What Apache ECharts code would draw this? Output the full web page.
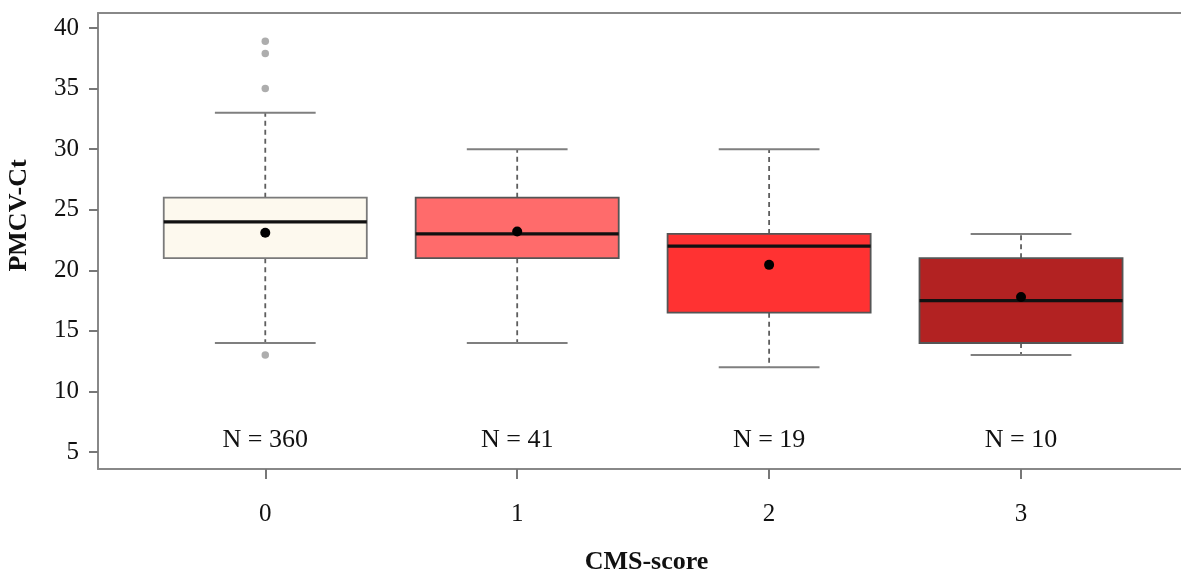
<!DOCTYPE html>
<html>
<head>
<meta charset="utf-8">
<script src="https://cdn.jsdelivr.net/npm/echarts@6/dist/echarts.min.js"></script>
<style>html,body{margin:0;padding:0;background:#fff;}#c{width:1181px;height:572px;}</style>
</head>
<body>
<div id="c"></div>
<script>
// ---- data ----
const categories = [0, 1, 2, 3];
const whiskerLow = [14, 14, 12, 13];
const q1 = [21, 21, 16.5, 14];
const median = [24, 23, 22, 17.5];
const q3 = [26, 26, 23, 21];
const whiskerHigh = [33, 30, 30, 23];
const means = [23.1, 23.2, 20.45, 17.8];
const outlierCat = [0, 0, 0, 0];
const outlierVal = [13, 35, 37.9, 38.9];
const countLabels = ['N = 360', 'N = 41', 'N = 19', 'N = 10'];
const yTicks = [5, 10, 15, 20, 25, 30, 35, 40];
const xTicks = [0, 1, 2, 3];

// ---- style ----
const palette = ['#FDF9EE', '#FF6B6B', '#FF3232', '#B22222'];
const strokes = ['#7a7a7a', '#555555', '#555555', '#555555'];
const labelY = 5.95;
const serif = '"Liberation Serif", "Times New Roman", serif';

const boxData = categories.map((c, i) => [c, whiskerLow[i], q1[i], median[i], q3[i], whiskerHigh[i], means[i]]);
const outlierData = outlierCat.map((c, i) => [c, outlierVal[i]]);
const nData = categories.map((c, i) => [c, labelY, countLabels[i]]);

function renderBox(params, api) {
  const i = params.dataIndex;
  const x = api.value(0);
  const lo = api.coord([x, api.value(1)]);
  const b1 = api.coord([x, api.value(2)]);
  const md = api.coord([x, api.value(3)]);
  const b3 = api.coord([x, api.value(4)]);
  const hi = api.coord([x, api.value(5)]);
  const mn = api.coord([x, api.value(6)]);
  const halfBox = api.size([0.806, 0])[0] / 2;
  const halfCap = api.size([0.4, 0])[0] / 2;
  const cx = lo[0];
  const dash = { stroke: '#5e5e5e', lineWidth: 1.8, lineDash: [5, 4] };
  const cap = { stroke: '#7f7f7f', lineWidth: 2 };
  return {
    type: 'group',
    children: [
      { type: 'line', shape: { x1: cx, y1: b3[1], x2: cx, y2: hi[1] }, style: dash },
      { type: 'line', shape: { x1: cx, y1: b1[1], x2: cx, y2: lo[1] }, style: dash },
      { type: 'line', shape: { x1: cx - halfCap, y1: hi[1], x2: cx + halfCap, y2: hi[1] }, style: cap },
      { type: 'line', shape: { x1: cx - halfCap, y1: lo[1], x2: cx + halfCap, y2: lo[1] }, style: cap },
      { type: 'rect', shape: { x: cx - halfBox, y: b3[1], width: halfBox * 2, height: b1[1] - b3[1] },
        style: { fill: palette[i], stroke: strokes[i], lineWidth: 1.8 } },
      { type: 'line', shape: { x1: cx - halfBox, y1: md[1], x2: cx + halfBox, y2: md[1] },
        style: { stroke: '#111', lineWidth: 3.2 } },
      { type: 'circle', shape: { cx: cx, cy: mn[1], r: 5 }, style: { fill: '#000' } }
    ]
  };
}

const chart = echarts.init(document.getElementById('c'), null, { renderer: 'canvas' });
chart.setOption({
  animation: false,
  backgroundColor: '#fff',
  grid: { left: 98, right: 0, top: 13, bottom: 103, containLabel: false, outerBoundsMode: 'none' },
  xAxis: [{
    type: 'value', min: -0.664, max: 3.635,
    name: 'CMS-score', nameLocation: 'middle', nameGap: 80,
    nameTextStyle: { fontFamily: serif, fontWeight: 'bold', fontSize: 26, color: '#111', padding: [0, 0, 0, 14] },
    axisLine: { show: true, onZero: false, lineStyle: { color: '#888', width: 2 } },
    axisTick: { show: true, length: 10, customValues: xTicks, lineStyle: { color: '#777', width: 2 } },
    axisLabel: { customValues: xTicks, margin: 33, fontFamily: serif, fontSize: 25, color: '#111' },
    splitLine: { show: false }
  }, {
    type: 'value', position: 'top', min: -0.664, max: 3.635,
    axisLine: { show: true, onZero: false, lineStyle: { color: '#888', width: 2 } },
    axisTick: { show: false }, axisLabel: { show: false }, splitLine: { show: false }
  }],
  yAxis: {
    type: 'value', min: 3.6, max: 41.24,
    name: 'PMCV-Ct', nameLocation: 'middle', nameGap: 66,
    nameTextStyle: { fontFamily: serif, fontWeight: 'bold', fontSize: 26, color: '#111', padding: [0, 0, 0, 51] },
    axisLine: { show: true, onZero: false, lineStyle: { color: '#888', width: 2 } },
    axisTick: { show: true, length: 9, customValues: yTicks, lineStyle: { color: '#777', width: 2 } },
    axisLabel: { customValues: yTicks, margin: 19, fontFamily: serif, fontSize: 25, color: '#111' },
    splitLine: { show: false }
  },
  series: [
    {
      type: 'custom', renderItem: renderBox, data: boxData,
      encode: { x: 0, y: [1, 2, 3, 4, 5, 6] }, z: 2
    },
    {
      type: 'scatter', data: outlierData, symbol: 'circle', symbolSize: 7.5,
      itemStyle: { color: '#999' }, z: 3
    },
    {
      type: 'scatter', data: nData, symbolSize: 0, silent: true,
      itemStyle: { color: '#111', opacity: 1 },
      label: { show: true, position: 'inside', formatter: p => p.value[2],
        fontFamily: serif, fontSize: 26, color: '#111', textBorderWidth: 0, opacity: 1 }
    }
  ]
});
</script>
</body>
</html>
